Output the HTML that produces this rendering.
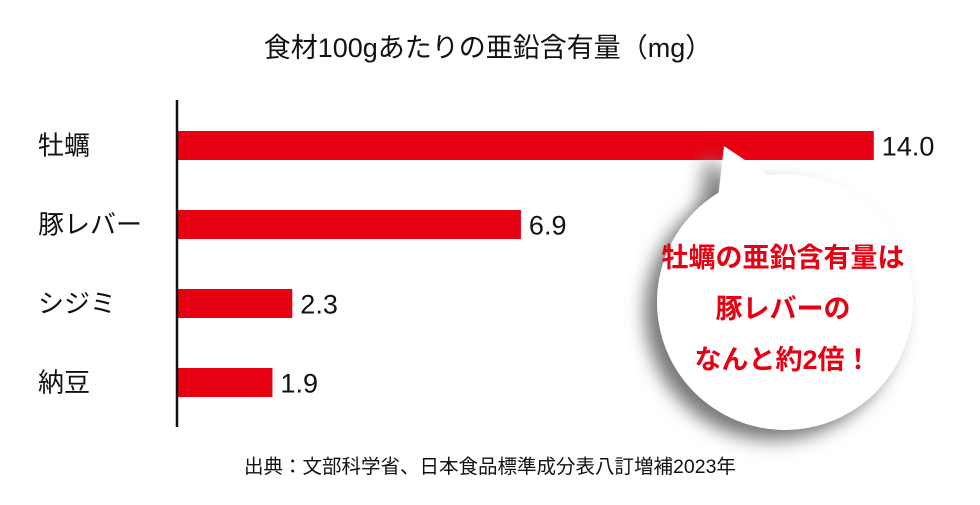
<!DOCTYPE html>
<html><head><meta charset="utf-8"><style>
body{margin:0;background:#fff;}
svg text{font-family:"Liberation Sans","Noto Sans CJK JP",sans-serif;}
</style></head><body>
<svg width="980" height="500" viewBox="0 0 980 500">
<defs>
<filter id="sh" x="-30%" y="-30%" width="160%" height="160%"><feGaussianBlur stdDeviation="9"/></filter>
</defs>
<text x="488" y="57" text-anchor="middle" font-size="27" fill="#111">食材100gあたりの亜鉛含有量（mg）</text>
<g id="bars"></g>
<line x1="177" y1="100" x2="177" y2="427" stroke="#111" stroke-width="2.5"/>
<g>
<path d="M716 148 L700 280 L800 230 Z" fill="#888" filter="url(#sh)" transform="translate(-10,8)"/>
<circle cx="785" cy="302" r="128" fill="#777" filter="url(#sh)" transform="translate(-12,10)"/>
<path d="M724 146 L712 250 L805 200 Z" fill="#fff"/>
<circle cx="785" cy="302" r="128" fill="#fff"/>
<g font-weight="bold" font-size="27" fill="#e60012" text-anchor="middle">
<text x="783" y="267">牡蠣の亜鉛含有量は</text>
<text x="783" y="318">豚レバーの</text>
<text x="783" y="369">なんと約2倍！</text>
</g>
</g>
<text x="490" y="473" text-anchor="middle" font-size="19.5" fill="#111">出典：文部科学省、日本食品標準成分表八訂増補2023年</text>
</svg>
<script>
const categories=["牡蠣","豚レバー","シジミ","納豆"];
const values=[14.0,6.9,2.3,1.9];
const labels=["14.0","6.9","2.3","1.9"];
const x0=178, pxPerUnit=49.7, y0=131, step=79, bh=29;
const xs=v=>x0+v*pxPerUnit;
const ys=i=>y0+i*step;
const g=document.getElementById('bars');
const NS='http://www.w3.org/2000/svg';
categories.forEach((c,i)=>{
  const r=document.createElementNS(NS,'rect');
  r.setAttribute('x',x0);r.setAttribute('y',ys(i));
  r.setAttribute('width',xs(values[i])-x0);r.setAttribute('height',bh);
  r.setAttribute('fill','#e60012');
  
  
  g.appendChild(r);
  const t=document.createElementNS(NS,'text');
  t.setAttribute('x',38);t.setAttribute('y',ys(i)+bh/2+9);
  t.setAttribute('font-size','26');t.setAttribute('fill','#111');
  t.textContent=c;
  
  
  g.appendChild(t);
  const v=document.createElementNS(NS,'text');
  v.setAttribute('x',xs(values[i])+8);v.setAttribute('y',ys(i)+bh/2+10);
  v.setAttribute('font-size','27');v.setAttribute('fill','#111');
  v.textContent=labels[i];
  
  
  g.appendChild(v);
});
</script>
</body></html>
